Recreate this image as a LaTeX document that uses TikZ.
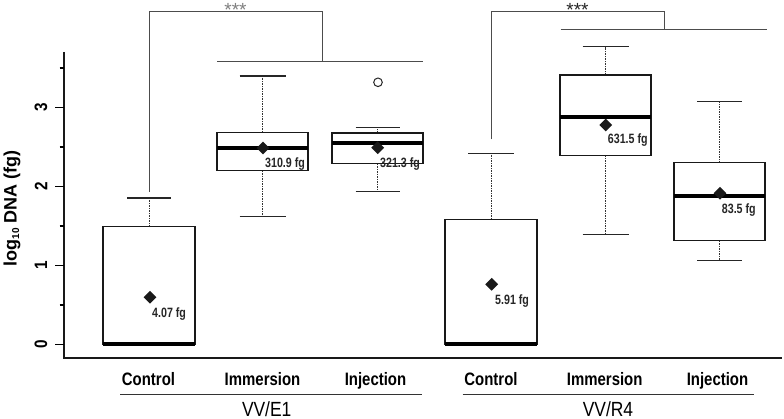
\documentclass[tikz,border=0pt]{standalone}
\usepackage{fontspec}
\setmainfont{Liberation Sans}
\newfontfamily\catfont[FakeStretch=0.83]{Liberation Sans}
\newfontfamily\valfont[FakeStretch=0.79]{Liberation Sans}
\newfontfamily\grpfont[FakeStretch=0.85]{Liberation Sans}
\usetikzlibrary{shapes.geometric}
\begin{document}
\begin{tikzpicture}[x=1pt,y=-1pt,
  axisline/.style={line width=2.2pt,black!90},
  boxline/.style={line width=1.3pt,black!90},
  medline/.style={line width=3.8pt,black},
  whisk/.style={line width=0.9pt,black!80,dash pattern=on 1.5pt off 1pt},
  capline/.style={line width=1.3pt,black!85},
  brk/.style={line width=1pt,black!70},
  dmd/.style={diamond,fill=black!90,inner sep=0pt,minimum size=13pt},
  vallab/.style={anchor=base west,inner sep=0pt,font=\valfont\bfseries\fontsize{13.5}{14}\selectfont,text=black!85},
  catlab/.style={anchor=base,inner sep=0pt,font=\catfont\bfseries\fontsize{18}{20}\selectfont},
  grplab/.style={anchor=base,inner sep=0pt,font=\grpfont\fontsize{20.5}{22}\selectfont},
  ticklab/.style={rotate=90,inner sep=0pt,font=\grpfont\bfseries\fontsize{18}{20}\selectfont},
  star/.style={inner sep=0pt,font=\fontsize{19}{20}\selectfont}]
\useasboundingbox (0,0) rectangle (784,419);
\fill[white] (0,0) rectangle (784,419);

% axes
\draw[axisline] (64,52) -- (64,358) -- (782,358);
\foreach \yy in {344.5,265.5,186.5,107.5} \draw[line width=1.6pt] (55,\yy) -- (64,\yy);
\foreach \yy in {305,226,147,68} \draw[line width=1.6pt] (59.5,\yy) -- (64,\yy);
\node[ticklab] (t0) at (41,344.5) {0};
\node[ticklab] (t1) at (41,265.5) {1};
\node[ticklab] (t2) at (41,186.5) {2};
\node[ticklab] (t3) at (41,107.5) {3};
\node[rotate=90,inner sep=0pt,font=\bfseries\fontsize{18}{20}\selectfont] (ylab) at (12,208.5) {log{\fontsize{10}{10}\selectfont\raisebox{-2.5pt}{10}} DNA (fg)};

% box plots: cx/hw/q3/med/q1/hi/lo/cw
\foreach \cx/\hw/\qa/\md/\qb/\hi/\lo/\cw in {
  149/46/226.7/344.3/344.3/198/344.3/22,
  262.5/45.5/132.3/148/170.7/76/216.7/23,
  377.5/45.5/133/143.3/163.7/127.3/191.7/22,
  491/46/219.3/344.3/344.3/153.3/344.3/23,
  605.5/45.5/75/116.7/155.3/46.7/234.3/23,
  719.5/45.5/162.7/196.3/240.7/101.7/260.7/22.5} {
  \draw[whisk] (\cx,\qa) -- (\cx,\hi);
  \draw[whisk] (\cx,\qb) -- (\cx,\lo);
  \draw[capline] (\cx-\cw,\hi) -- (\cx+\cw,\hi);
  \draw[capline] (\cx-\cw,\lo) -- (\cx+\cw,\lo);
  \fill[white] (\cx-\hw,\qa) rectangle (\cx+\hw,\qb);
  \draw[boxline] (\cx-\hw,\qa) rectangle (\cx+\hw,\qb);
  \draw[medline] (\cx-\hw,\md) -- (\cx+\hw,\md);
}
\draw[medline] (103,344.3) -- (195,344.3);
\draw[medline] (445,344.3) -- (537,344.3);

% outlier
\draw[line width=1pt,black!85] (378,82.3) circle (4.3pt);

% means
\node[dmd] (m1) at (150,297.3) {};
\node[dmd] (m2) at (263,148) {};
\node[dmd] (m3) at (377.7,147.7) {};
\node[dmd] (m4) at (491.7,284.3) {};
\node[dmd] (m5) at (605.7,125) {};
\node[dmd] (m6) at (720,193.3) {};
\node[vallab] (v1) at (152,317.3) {4.07 fg};
\node[vallab] (v2) at (265,167.8) {310.9 fg};
\node[vallab] (v3) at (380,167.8) {321.3 fg};
\node[vallab] (v4) at (495,305) {5.91 fg};
\node[vallab] (v5) at (607.7,143.8) {631.5 fg};
\node[vallab] (v6) at (721.7,213.3) {83.5 fg};

% significance brackets
\coordinate (e1a) at (149,192);
\coordinate (e1b) at (322,62);
\draw[brk] (e1a) |- (322,11.7) -- (e1b);
\draw[brk] (217,62) -- (423,62);
\node[star,text=black!50] (s1) at (235.5,9.5) {***};
\coordinate (r4a) at (491.7,139.3);
\coordinate (r4b) at (664,29.7);
\draw[brk] (r4a) |- (664,11.7) -- (r4b);
\draw[brk] (560.7,29.7) -- (767,29.7);
\node[star,text=black!85] (s2) at (577.5,9.5) {***};

% category labels
\node[catlab] (c1) at (148.5,385) {Control};
\node[catlab] (c2) at (262.5,385) {Immersion};
\node[catlab] (c3) at (375.5,385) {Injection};
\node[catlab] (c4) at (491,385) {Control};
\node[catlab] (c5) at (604.7,385) {Immersion};
\node[catlab] (c6) at (717.5,385) {Injection};
\draw[line width=1.2pt,black!80] (120,394.3) -- (422,394.3);
\draw[line width=1.2pt,black!80] (462.7,394.3) -- (754,394.3);
\node[grplab] (g1) at (266.7,416) {VV/E1};
\node[grplab] (g2) at (608,416) {VV/R4};
\end{tikzpicture}
\end{document}
